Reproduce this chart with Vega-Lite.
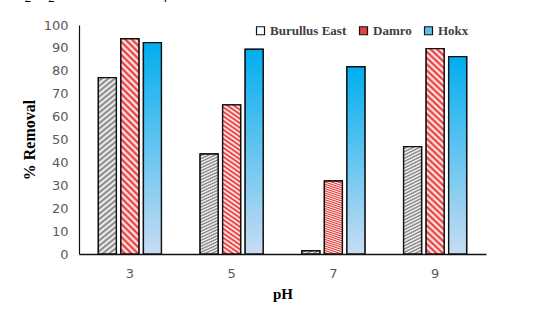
{
  "$schema": "https://vega.github.io/schema/vega-lite/v6.json",
  "width": 407,
  "height": 229,
  "autosize": {"type": "none"},
  "padding": {"left": 79, "top": 25, "right": 71, "bottom": 59},
  "background": "white",
  "title": {
    "text": "H₂O₂ and KMnO₄.",
    "anchor": "start",
    "frame": "group",
    "font": "Liberation Serif",
    "fontSize": 22,
    "fontWeight": "normal",
    "color": "black",
    "baseline": "alphabetic",
    "offset": -1,
    "dx": -71
  },
  "data": {
    "values": [
      {"pH": "3", "series": "Burullus East", "removal": 77.0},
      {"pH": "3", "series": "Damro", "removal": 94.0},
      {"pH": "3", "series": "Hokx", "removal": 92.3},
      {"pH": "5", "series": "Burullus East", "removal": 43.7},
      {"pH": "5", "series": "Damro", "removal": 65.1},
      {"pH": "5", "series": "Hokx", "removal": 89.4},
      {"pH": "7", "series": "Burullus East", "removal": 1.4},
      {"pH": "7", "series": "Damro", "removal": 31.9},
      {"pH": "7", "series": "Hokx", "removal": 81.8},
      {"pH": "9", "series": "Burullus East", "removal": 46.9},
      {"pH": "9", "series": "Damro", "removal": 89.7},
      {"pH": "9", "series": "Hokx", "removal": 86.2}
    ]
  },
  "encoding": {
    "x": {
      "field": "pH",
      "type": "ordinal",
      "scale": {"paddingInner": 0.38, "paddingOuter": 0.19},
      "axis": {
        "labelAngle": 0,
        "labelFont": "DejaVu Sans",
        "labelFontSize": 13,
        "labelColor": "#595959",
        "labelPadding": 13,
        "ticks": false,
        "domainColor": "#111111",
        "domainWidth": 1.5,
        "title": "pH",
        "titleFont": "Liberation Serif",
        "titleFontSize": 15,
        "titleFontWeight": "bold",
        "titleColor": "black",
        "titlePadding": 6
      }
    },
    "xOffset": {
      "field": "series",
      "type": "nominal",
      "scale": {"paddingInner": 0.2, "paddingOuter": 0}
    },
    "y": {
      "field": "removal",
      "type": "quantitative",
      "scale": {"domain": [0, 100], "nice": false},
      "axis": {
        "values": [0, 10, 20, 30, 40, 50, 60, 70, 80, 90, 100],
        "grid": false,
        "ticks": false,
        "labelFont": "DejaVu Sans",
        "labelFontSize": 13,
        "labelColor": "#595959",
        "labelPadding": 11,
        "domainColor": "#111111",
        "domainWidth": 1.2,
        "title": "% Removal",
        "titleFont": "Liberation Serif",
        "titleFontSize": 16,
        "titleFontWeight": "bold",
        "titleColor": "black",
        "titlePadding": 6
      }
    }
  },
  "layer": [
    {
      "mark": {"type": "bar", "stroke": "#111111", "strokeWidth": 1.2},
      "encoding": {
        "color": {
          "field": "series",
          "type": "nominal",
          "scale": {
            "domain": ["Burullus East", "Damro", "Hokx"],
            "range": ["#ffffff", "#e84040", "#5cc0ee"]
          },
          "legend": {
            "orient": "none",
            "direction": "horizontal",
            "legendX": 175,
            "legendY": -1,
            "title": null,
            "symbolType": "square",
            "symbolSize": 64,
            "symbolStrokeColor": "#111111",
            "symbolStrokeWidth": 1.2,
            "symbolOpacity": 1,
            "labelFont": "Liberation Serif",
            "labelFontSize": 13,
            "labelFontWeight": "bold",
            "labelColor": "#404040",
            "labelOffset": 3,
            "columnPadding": 10
          }
        }
      }
    },
    {
      "mark": {"type": "bar", "stroke": "#111111", "strokeWidth": 1.4},
      "encoding": {
        "fill": {
          "condition": [
            {
              "test": "datum.series === 'Burullus East'",
              "value": {"gradient": "linear", "x1": 0, "y1": -0.1, "x2": 0.1, "y2": 1.1, "stops": [
                {"offset": 0, "color": "#7a7a7a"}, {"offset": 0.0125, "color": "#ffffff"},
                {"offset": 0.025, "color": "#7a7a7a"}, {"offset": 0.0375, "color": "#ffffff"},
                {"offset": 0.05, "color": "#7a7a7a"}, {"offset": 0.0625, "color": "#ffffff"},
                {"offset": 0.075, "color": "#7a7a7a"}, {"offset": 0.0875, "color": "#ffffff"},
                {"offset": 0.1, "color": "#7a7a7a"}, {"offset": 0.1125, "color": "#ffffff"},
                {"offset": 0.125, "color": "#7a7a7a"}, {"offset": 0.1375, "color": "#ffffff"},
                {"offset": 0.15, "color": "#7a7a7a"}, {"offset": 0.1625, "color": "#ffffff"},
                {"offset": 0.175, "color": "#7a7a7a"}, {"offset": 0.1875, "color": "#ffffff"},
                {"offset": 0.2, "color": "#7a7a7a"}, {"offset": 0.2125, "color": "#ffffff"},
                {"offset": 0.225, "color": "#7a7a7a"}, {"offset": 0.2375, "color": "#ffffff"},
                {"offset": 0.25, "color": "#7a7a7a"}, {"offset": 0.2625, "color": "#ffffff"},
                {"offset": 0.275, "color": "#7a7a7a"}, {"offset": 0.2875, "color": "#ffffff"},
                {"offset": 0.3, "color": "#7a7a7a"}, {"offset": 0.3125, "color": "#ffffff"},
                {"offset": 0.325, "color": "#7a7a7a"}, {"offset": 0.3375, "color": "#ffffff"},
                {"offset": 0.35, "color": "#7a7a7a"}, {"offset": 0.3625, "color": "#ffffff"},
                {"offset": 0.375, "color": "#7a7a7a"}, {"offset": 0.3875, "color": "#ffffff"},
                {"offset": 0.4, "color": "#7a7a7a"}, {"offset": 0.4125, "color": "#ffffff"},
                {"offset": 0.425, "color": "#7a7a7a"}, {"offset": 0.4375, "color": "#ffffff"},
                {"offset": 0.45, "color": "#7a7a7a"}, {"offset": 0.4625, "color": "#ffffff"},
                {"offset": 0.475, "color": "#7a7a7a"}, {"offset": 0.4875, "color": "#ffffff"},
                {"offset": 0.5, "color": "#7a7a7a"}, {"offset": 0.5125, "color": "#ffffff"},
                {"offset": 0.525, "color": "#7a7a7a"}, {"offset": 0.5375, "color": "#ffffff"},
                {"offset": 0.55, "color": "#7a7a7a"}, {"offset": 0.5625, "color": "#ffffff"},
                {"offset": 0.575, "color": "#7a7a7a"}, {"offset": 0.5875, "color": "#ffffff"},
                {"offset": 0.6, "color": "#7a7a7a"}, {"offset": 0.6125, "color": "#ffffff"},
                {"offset": 0.625, "color": "#7a7a7a"}, {"offset": 0.6375, "color": "#ffffff"},
                {"offset": 0.65, "color": "#7a7a7a"}, {"offset": 0.6625, "color": "#ffffff"},
                {"offset": 0.675, "color": "#7a7a7a"}, {"offset": 0.6875, "color": "#ffffff"},
                {"offset": 0.7, "color": "#7a7a7a"}, {"offset": 0.7125, "color": "#ffffff"},
                {"offset": 0.725, "color": "#7a7a7a"}, {"offset": 0.7375, "color": "#ffffff"},
                {"offset": 0.75, "color": "#7a7a7a"}, {"offset": 0.7625, "color": "#ffffff"},
                {"offset": 0.775, "color": "#7a7a7a"}, {"offset": 0.7875, "color": "#ffffff"},
                {"offset": 0.8, "color": "#7a7a7a"}, {"offset": 0.8125, "color": "#ffffff"},
                {"offset": 0.825, "color": "#7a7a7a"}, {"offset": 0.8375, "color": "#ffffff"},
                {"offset": 0.85, "color": "#7a7a7a"}, {"offset": 0.8625, "color": "#ffffff"},
                {"offset": 0.875, "color": "#7a7a7a"}, {"offset": 0.8875, "color": "#ffffff"},
                {"offset": 0.9, "color": "#7a7a7a"}, {"offset": 0.9125, "color": "#ffffff"},
                {"offset": 0.925, "color": "#7a7a7a"}, {"offset": 0.9375, "color": "#ffffff"},
                {"offset": 0.95, "color": "#7a7a7a"}, {"offset": 0.9625, "color": "#ffffff"},
                {"offset": 0.975, "color": "#7a7a7a"}, {"offset": 0.9875, "color": "#ffffff"},
                {"offset": 1, "color": "#7a7a7a"}
              ]}
            },
            {
              "test": "datum.series === 'Damro'",
              "value": {"gradient": "linear", "x1": 0.1, "y1": -0.1, "x2": 0, "y2": 1.1, "stops": [
                {"offset": 0, "color": "#e82828"}, {"offset": 0.0125, "color": "#ffffff"},
                {"offset": 0.025, "color": "#e82828"}, {"offset": 0.0375, "color": "#ffffff"},
                {"offset": 0.05, "color": "#e82828"}, {"offset": 0.0625, "color": "#ffffff"},
                {"offset": 0.075, "color": "#e82828"}, {"offset": 0.0875, "color": "#ffffff"},
                {"offset": 0.1, "color": "#e82828"}, {"offset": 0.1125, "color": "#ffffff"},
                {"offset": 0.125, "color": "#e82828"}, {"offset": 0.1375, "color": "#ffffff"},
                {"offset": 0.15, "color": "#e82828"}, {"offset": 0.1625, "color": "#ffffff"},
                {"offset": 0.175, "color": "#e82828"}, {"offset": 0.1875, "color": "#ffffff"},
                {"offset": 0.2, "color": "#e82828"}, {"offset": 0.2125, "color": "#ffffff"},
                {"offset": 0.225, "color": "#e82828"}, {"offset": 0.2375, "color": "#ffffff"},
                {"offset": 0.25, "color": "#e82828"}, {"offset": 0.2625, "color": "#ffffff"},
                {"offset": 0.275, "color": "#e82828"}, {"offset": 0.2875, "color": "#ffffff"},
                {"offset": 0.3, "color": "#e82828"}, {"offset": 0.3125, "color": "#ffffff"},
                {"offset": 0.325, "color": "#e82828"}, {"offset": 0.3375, "color": "#ffffff"},
                {"offset": 0.35, "color": "#e82828"}, {"offset": 0.3625, "color": "#ffffff"},
                {"offset": 0.375, "color": "#e82828"}, {"offset": 0.3875, "color": "#ffffff"},
                {"offset": 0.4, "color": "#e82828"}, {"offset": 0.4125, "color": "#ffffff"},
                {"offset": 0.425, "color": "#e82828"}, {"offset": 0.4375, "color": "#ffffff"},
                {"offset": 0.45, "color": "#e82828"}, {"offset": 0.4625, "color": "#ffffff"},
                {"offset": 0.475, "color": "#e82828"}, {"offset": 0.4875, "color": "#ffffff"},
                {"offset": 0.5, "color": "#e82828"}, {"offset": 0.5125, "color": "#ffffff"},
                {"offset": 0.525, "color": "#e82828"}, {"offset": 0.5375, "color": "#ffffff"},
                {"offset": 0.55, "color": "#e82828"}, {"offset": 0.5625, "color": "#ffffff"},
                {"offset": 0.575, "color": "#e82828"}, {"offset": 0.5875, "color": "#ffffff"},
                {"offset": 0.6, "color": "#e82828"}, {"offset": 0.6125, "color": "#ffffff"},
                {"offset": 0.625, "color": "#e82828"}, {"offset": 0.6375, "color": "#ffffff"},
                {"offset": 0.65, "color": "#e82828"}, {"offset": 0.6625, "color": "#ffffff"},
                {"offset": 0.675, "color": "#e82828"}, {"offset": 0.6875, "color": "#ffffff"},
                {"offset": 0.7, "color": "#e82828"}, {"offset": 0.7125, "color": "#ffffff"},
                {"offset": 0.725, "color": "#e82828"}, {"offset": 0.7375, "color": "#ffffff"},
                {"offset": 0.75, "color": "#e82828"}, {"offset": 0.7625, "color": "#ffffff"},
                {"offset": 0.775, "color": "#e82828"}, {"offset": 0.7875, "color": "#ffffff"},
                {"offset": 0.8, "color": "#e82828"}, {"offset": 0.8125, "color": "#ffffff"},
                {"offset": 0.825, "color": "#e82828"}, {"offset": 0.8375, "color": "#ffffff"},
                {"offset": 0.85, "color": "#e82828"}, {"offset": 0.8625, "color": "#ffffff"},
                {"offset": 0.875, "color": "#e82828"}, {"offset": 0.8875, "color": "#ffffff"},
                {"offset": 0.9, "color": "#e82828"}, {"offset": 0.9125, "color": "#ffffff"},
                {"offset": 0.925, "color": "#e82828"}, {"offset": 0.9375, "color": "#ffffff"},
                {"offset": 0.95, "color": "#e82828"}, {"offset": 0.9625, "color": "#ffffff"},
                {"offset": 0.975, "color": "#e82828"}, {"offset": 0.9875, "color": "#ffffff"},
                {"offset": 1, "color": "#e82828"}
              ]}
            }
          ],
          "value": {"gradient": "linear", "x1": 0, "y1": 0, "x2": 0, "y2": 1, "stops": [
            {"offset": 0, "color": "#00aeef"},
            {"offset": 1, "color": "#c8dcf2"}
          ]}
        }
      }
    }
  ],
  "config": {
    "view": {"stroke": null}
  }
}
